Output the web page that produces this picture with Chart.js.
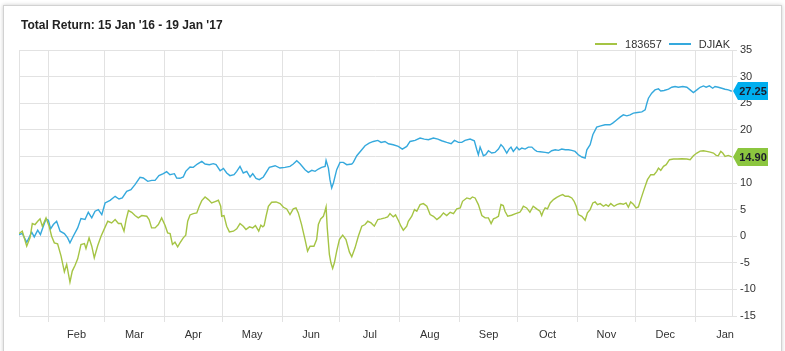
<!DOCTYPE html>
<html>
<head>
<meta charset="utf-8">
<script src="https://cdn.jsdelivr.net/npm/chart.js@4.4.0/dist/chart.umd.min.js"></script>
<style>
html,body{margin:0;padding:0;background:#fff;width:785px;height:351px;overflow:hidden;font-family:"Liberation Sans",Arial,sans-serif;}
#frame{position:absolute;left:3px;top:5px;width:777px;height:400px;border:1px solid #d2d2d2;box-shadow:0 0 4px rgba(0,0,0,0.2);background:#fff;}
#c{position:absolute;left:0;top:0;}
#title{position:absolute;left:21px;top:17.5px;font-size:12px;line-height:14px;font-weight:bold;color:#222;white-space:nowrap;}
#legend{position:absolute;right:55px;top:37px;display:flex;align-items:center;font-size:11px;line-height:14px;color:#333;white-space:nowrap;}
#legend .item{display:flex;align-items:center;margin-left:7px;}
#legend .sw{display:inline-block;width:22px;height:1.5px;margin-right:8px;}
</style>
</head>
<body>
<div id="frame"></div>
<canvas id="c" width="785" height="351"></canvas>
<div id="title">Total Return: 15 Jan '16 - 19 Jan '17</div>
<div id="legend"></div>
<script>
// ---- data (x = days since 15 Jan 2016) ----
const chartTitle = "Total Return: 15 Jan '16 - 19 Jan '17";
const seriesNames = ['183657', 'DJIAK'];

const greenDays = [1.7,3.4,5.7,7.4,8.6,10.0,11.4,12.6,13.8,15.7,17.3,18.6,20.0,21.7,23.5,25.2,26.4,28.1,29.3,30.7,32.1,33.8,35.6,36.4,38.0,39.4,40.7,42.5,44.2,45.9,47.7,49.7,51.5,53.2,54.6,56.1,57.2,58.4,60.1,61.8,63.5,65.3,67.9,69.1,70.4,72.2,73.9,75.6,77.4,78.7,80.0,81.2,82.5,83.9,85.1,86.8,88.1,89.1,90.3,
92.0,93.8,95.1,96.4,98.1,99.8,101.5,103.3,105.0,106.2,106.7,107.9,109.3,110.7,112.8,114.5,116.2,117.9,119.3,121.1,122.8,124.2,125.9,127.0,128.0,128.7,129.7,130.9,132.6,134.9,137.0,138.7,140.4,142.1,143.8,145.2,146.4,148.1,149.9,151.2,152.5,154.5,155.9,156.8,158.0,159.4,160.2,160.8,161.4,162.5,163.3,164.2,165.1,166.3,167.7,169.4,171.1,172.9,174.1,175.8,177.5,179.3,
181.0,182.4,184.1,185.8,187.6,189.3,191.3,192.7,193.9,195.6,196.8,198.2,199.6,200.8,202.6,203.4,205.2,206.6,207.8,209.5,211.2,213.0,214.7,216.4,218.2,219.9,221.6,223.3,225.1,226.8,228.5,230.3,231.5,233.7,235.4,236.6,238.0,239.7,241.5,243.2,244.9,246.3,247.5,248.7,250.1,251.4,252.6,253.5,254.9,256.9,259.0,261.2,262.1,263.0,264.7,266.4,268.1,269.9,271.6,272.5,273.3,
274.3,275.5,276.9,278.6,280.3,282.0,283.4,284.7,286.4,288.1,289.3,290.4,291.5,293.3,295.0,296.2,297.6,299.0,300.2,301.4,302.8,304.5,305.8,307.1,308.3,310.0,311.4,313.1,314.8,316.2,317.4,318.6,320.0,321.4,322.6,323.8,325.5,327.3,329.0,330.7,332.1,333.0,334.2,335.6,337.0,338.7,340.8,342.9,345.1,347.7,349.4,351.1,352.9,354.6,356.3,358.0,359.8,361.5,362.9,364.0,365.3,366.3,367.5,369.2,371.0];

const greenValues = [0.5,0.94,-1.88,-0.31,2.38,2.19,2.81,3.25,1.88,3.44,1.88,0,-1.25,-1.44,-3.75,-6.69,-5.31,-8.63,-6.56,-5.5,-4.25,-1.56,-1.38,-2.31,-0.31,-1.88,-4.06,-1.75,0,1.38,2.81,2.5,3.13,2.38,2.38,0.94,3.13,4.81,4.5,3.88,3.44,3.88,3.75,3.13,1.56,1.56,2.19,3.44,2.0,0.63,0.5,-1.56,-1.13,-2.0,-1.25,-0.31,0.19,2.81,4.0,
4.25,4.38,5.63,6.69,7.38,6.88,6.25,6.5,6.75,5.63,3.75,3.88,1.88,0.81,0.94,1.38,2.38,1.88,1.25,1.75,1.56,2.0,0.94,2.06,1.75,2.0,3.75,5.63,6.38,6.44,6.13,5.44,5.13,4.06,5.13,5.31,4.38,2.19,-0.63,-2.81,-1.88,-1.88,-0.63,2.19,3.25,3.75,4.69,5.5,1.56,-3.44,-5.0,-6.06,-5.0,-2.81,-0.63,0.19,-0.63,-3.0,-3.88,-2.19,0,1.88,
2.19,2.81,2.5,1.88,3.13,3.25,3.44,3.63,4.25,3.63,4.0,3.0,1.88,1.13,1.88,2.81,3.75,5.0,4.69,5.94,6.13,5.63,4.06,3.75,3.13,3.63,4.38,3.88,4.5,4.25,5.13,5.31,6.56,7.19,7.0,7.38,7.19,5.94,3.88,3.44,3.44,2.38,3.25,3.44,3.75,5.94,5.75,4.69,3.75,3.94,4.25,4.5,5.0,5.63,5.31,4.5,5.63,5.13,4.69,3.88,4.69,
5.31,5.13,6.25,6.88,7.31,7.63,7.81,7.5,7.5,7.19,6.56,5.63,4.06,3.75,3.0,4.38,5.0,6.25,6.44,5.94,6.13,5.63,5.94,5.63,6.13,5.63,5.94,6.13,6.0,6.25,5.44,6.44,6.0,5.31,5.5,6.88,8.75,10.63,11.56,11.56,12.19,12.81,12.38,13.13,13.44,14.38,14.5,14.5,14.56,14.5,14.38,15.13,15.63,16.0,16.06,15.94,15.81,15.63,15.19,15.13,15.94,15.63,15.0,15.19,14.9];

const blueDays = [1.7,3.4,5.7,8.3,9.6,11.4,12.8,14.3,15.7,16.9,18.1,19.5,21.2,23,25.2,26.9,28.1,29.8,32.1,33.8,35.9,37.6,39.4,41.1,42.8,44.6,46.3,48.9,51.5,53.5,55.2,57.5,59.7,61.8,64.4,66.1,68.4,70.5,72.2,74.2,76.5,78.2,79.9,82.2,83.4,85.1,86.8,88.1,90.3,
92.0,94.1,96.4,98.1,100.3,102.4,103.8,105.9,107.6,109.3,111.0,113.1,114.5,116.2,117.9,119.7,121.4,122.8,124.5,126.2,128.3,131.4,134.4,136.9,139.5,142.1,143.8,145.6,147.3,149.9,151.6,153.4,155.1,156.8,158.5,160.3,160.8,162.0,162.8,163.7,164.6,166.3,168.0,169.7,171.5,174.1,174.9,176.7,179.3,
181.0,183.1,185.3,187.6,189.3,191.3,193.1,195.6,198.2,200.3,202.6,204.3,206.9,209.5,211.7,213.8,216.4,218.7,220.7,223.3,225.6,227.3,229.4,231.1,232.8,235.4,237.6,238.9,239.7,240.6,241.5,242.3,243.5,244.9,246.6,248.3,250.1,251.4,252.6,254.4,255.6,256.6,257.8,259.6,260.8,262.2,263.9,265.6,267.4,268.8,270.0,271.7,
274.3,276.0,277.7,279.5,281.2,282.9,284.7,286.4,288.1,289.8,291.5,293.3,295.0,295.9,297.6,299.0,301.0,303.1,305.3,307.9,309.3,311.0,313.1,314.8,316.6,318.3,320.0,322.1,324.4,326.1,327.0,327.8,329.5,331.2,333.0,334.2,335.9,338.2,339.9,341.6,343.3,345.6,347.7,349.4,351.1,352.9,354.6,356.3,357.7,359.4,361.1,362.3,364.0,365.8,367.5,369.2,371.0];

const blueValues = [0.31,0.5,-1.13,0.75,-0.13,1.13,0.31,1.88,3.25,3.0,1.38,2.19,2.81,0.94,0.5,-0.31,-1.25,0,1.56,3.31,3.13,4.5,3.44,4.69,5.0,4.06,6.25,6.75,7.5,7.0,7.19,8.44,8.75,9.69,11.06,10.94,10.31,10.5,10.5,11.38,11.75,12.13,11.56,11.75,10.94,10.88,11.13,12.19,13.0,
12.94,13.56,14.06,13.56,13.44,13.63,13.44,12.31,12.75,11.88,11.38,11.56,12.19,13.13,11.88,12.19,11.13,11.75,10.88,10.63,11.13,12.94,13.25,12.81,12.94,13.13,13.56,14.19,13.63,12.5,12.0,12.38,12.19,12.63,12.94,13.13,14.25,12.81,10.63,9.06,10.0,12.5,13.88,13.88,13.44,13.56,13.88,15.13,16.25,
17.0,17.5,17.81,18.0,17.63,17.81,17.38,17.19,16.88,16.38,16.88,17.81,18.0,18.44,18.25,18.13,18.44,18.25,17.94,17.63,17.38,18.0,17.63,17.63,18.0,18.25,17.94,16.25,15.31,16.75,15.94,15.13,15.31,16.06,15.63,15.75,16.38,17.19,16.75,15.63,16.38,16.75,15.94,16.75,16.25,16.56,16.38,16.75,16.75,16.25,15.94,15.88,
15.75,15.63,16.06,16.25,16.13,16.38,16.25,16.25,16.13,15.94,15.31,14.88,14.69,16.25,17.19,19.06,20.5,20.75,20.94,20.94,21.25,21.75,22.38,22.81,22.63,22.81,23.13,23.25,23.38,23.75,25.0,25.94,26.88,27.5,27.69,27.31,27.38,27.63,28.0,28.13,28.0,28.13,28.0,27.5,27.0,27.5,28.0,28.25,28.0,28.25,27.81,28.13,28.0,27.81,27.63,27.5,27.25];

// x axis: month boundaries (grid) and mid-month label positions
const monthStartDays = [17,46,77,107,138,168,199,230,260,291,321,352];
const monthMidDays = [31.5,61.5,92,122.5,153,183.5,214.5,245,275.5,306,336.5,367.5];
const monthLabels = ['Feb','Mar','Apr','May','Jun','Jul','Aug','Sep','Oct','Nov','Dec','Jan'];
const yTicks = [-15,-10,-5,0,5,10,15,20,25,30,35];

// ---- styles ----
const LINE_COLORS = ['#a5c444', '#35a9dd'];
const BADGE_COLORS = ['#8cc63f', '#00aeef'];
const GRID = '#e2e2e2';
const FONT = '"Liberation Sans", Arial, sans-serif';
const X_MIN = 1.7, X_MAX = 371.1;

// legend (HTML)
const leg = document.getElementById('legend');
seriesNames.forEach((n, i) => {
  const it = document.createElement('span'); it.className = 'item';
  const sw = document.createElement('span'); sw.className = 'sw'; sw.style.background = LINE_COLORS[i];
  const tx = document.createElement('span'); tx.textContent = n;
  it.appendChild(sw); it.appendChild(tx); leg.appendChild(it);
});

const pts = (xs, ys) => xs.map((x, i) => ({x, y: ys[i]}));

const badgePlugin = {
  id: 'badges',
  afterDraw(chart) {
    const {ctx, chartArea} = chart;
    const ys = chart.scales.y;
    chart.data.datasets.forEach((ds, i) => {
      const last = ds.data[ds.data.length - 1].y;
      const cy = Math.round(ys.getPixelForValue(last));
      const x0 = chartArea.right + 1, x1 = x0 + 5, x2 = x0 + 35, h = 9;
      ctx.save();
      ctx.fillStyle = BADGE_COLORS[i];
      ctx.beginPath();
      ctx.moveTo(x0, cy);
      ctx.lineTo(x1, cy - h);
      ctx.lineTo(x2, cy - h);
      ctx.lineTo(x2, cy + h);
      ctx.lineTo(x1, cy + h);
      ctx.closePath();
      ctx.fill();
      ctx.fillStyle = '#1c1c2c';
      ctx.font = 'bold 11px ' + FONT;
      ctx.textAlign = 'center';
      ctx.textBaseline = 'middle';
      ctx.fillText(last.toFixed(2), (x1 + x2) / 2, cy + 0.5);
      ctx.restore();
    });
  }
};

new Chart(document.getElementById('c'), {
  type: 'line',
  data: {
    datasets: [
      {label: seriesNames[0], data: pts(greenDays, greenValues), borderColor: LINE_COLORS[0], borderWidth: 1.4, pointRadius: 0, tension: 0, fill: false},
      {label: seriesNames[1], data: pts(blueDays, blueValues), borderColor: LINE_COLORS[1], borderWidth: 1.4, pointRadius: 0, tension: 0, fill: false}
    ]
  },
  options: {
    responsive: false,
    animation: false,
    events: [],
    layout: {padding: {left: 19, top: 50, right: 0, bottom: 0}},
    plugins: {legend: {display: false}, title: {display: false}, tooltip: {enabled: false}},
    scales: {
      x: {
        type: 'linear', min: X_MIN, max: X_MAX, position: 'bottom',
        afterBuildTicks: (s) => {
          const t = [{value: X_MIN, kind: 'edge'}];
          monthStartDays.forEach(v => t.push({value: v, kind: 'start'}));
          monthMidDays.forEach((v, i) => t.push({value: v, kind: 'mid', name: monthLabels[i]}));
          t.sort((a, b) => a.value - b.value);
          s.ticks = t;
        },
        afterFit: (s) => { s.height = 35; },
        grid: {
          color: (c) => (c.tick && c.tick.kind === 'mid') ? 'rgba(0,0,0,0)' : GRID,
          tickColor: (c) => (c.tick && c.tick.kind === 'start') ? GRID : 'rgba(0,0,0,0)',
          tickLength: 6, lineWidth: 1
        },
        border: {display: true, color: GRID},
        ticks: {
          autoSkip: false, maxRotation: 0, minRotation: 0, padding: 6,
          color: '#333', font: {size: 11, family: FONT},
          callback: (v, i, ticks) => ticks[i].name || ''
        }
      },
      y: {
        position: 'right', min: -15, max: 35,
        afterBuildTicks: (s) => { s.ticks = yTicks.map(v => ({value: v})); },
        afterFit: (s) => { s.width = 53; },
        grid: {color: GRID, tickLength: 5, lineWidth: 1},
        border: {display: true, color: GRID},
        ticks: {padding: 3, color: '#333', font: {size: 11, family: FONT}}
      }
    }
  },
  plugins: [badgePlugin]
});
</script>
</body>
</html>
